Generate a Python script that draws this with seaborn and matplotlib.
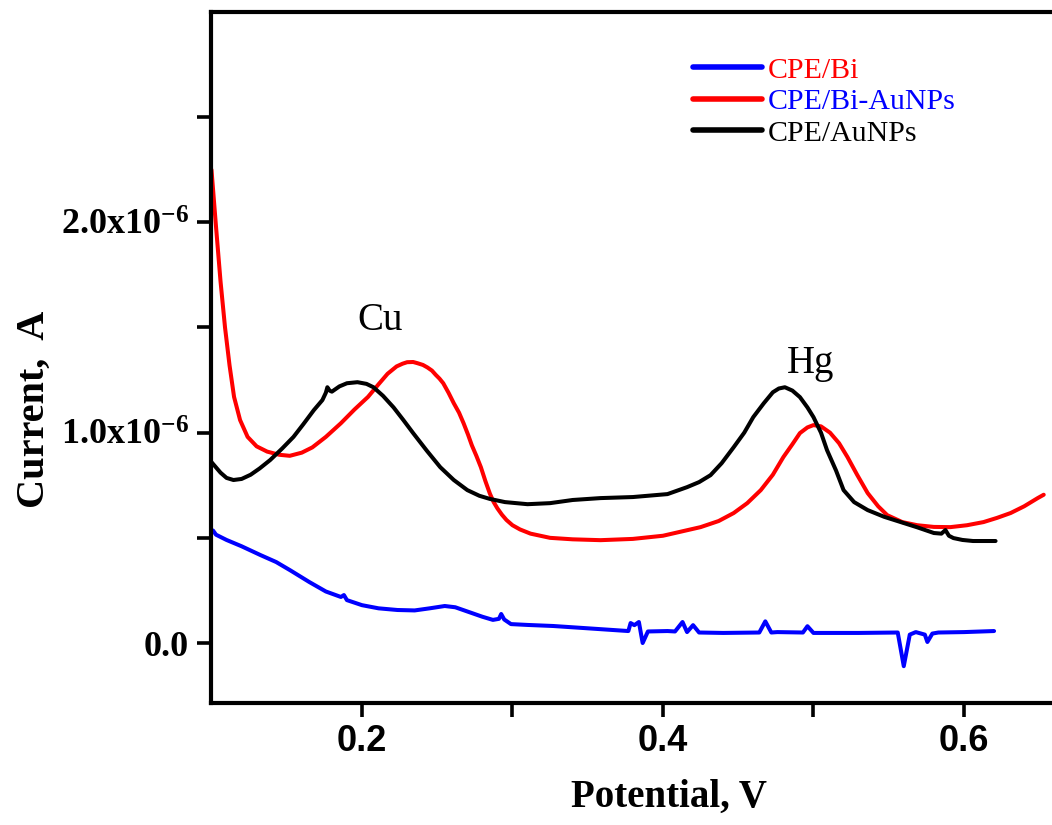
import matplotlib
matplotlib.use('Agg')
import matplotlib.pyplot as plt
import pandas as pd
import seaborn as sns

# potential (V) and current (uA)
bi_x = [0.1000, 0.1010, 0.1030, 0.1100, 0.1200, 0.1326, 0.1430, 0.1525,
        0.1650, 0.1760, 0.1860, 0.1880, 0.1900, 0.2000, 0.2110, 0.2236,
        0.2350, 0.2450, 0.2550, 0.2620, 0.2700, 0.2800, 0.2870, 0.2910,
        0.2925, 0.2945, 0.2990, 0.3100, 0.3270, 0.3500, 0.3770, 0.3785,
        0.3810, 0.3840, 0.3865, 0.3900, 0.4030, 0.4080, 0.4130, 0.4160,
        0.4200, 0.4240, 0.4400, 0.4640, 0.4680, 0.4720, 0.4760, 0.4930,
        0.4960, 0.5000, 0.5300, 0.5560, 0.5600, 0.5640, 0.5680, 0.5740,
        0.5757, 0.5790, 0.5830, 0.6000, 0.6200]
bi_y = [0.527, 0.535, 0.515, 0.490, 0.460, 0.418, 0.385, 0.345,
        0.290, 0.245, 0.219, 0.228, 0.204, 0.180, 0.165, 0.157,
        0.155, 0.165, 0.176, 0.170, 0.150, 0.125, 0.110, 0.115,
        0.138, 0.112, 0.090, 0.086, 0.081, 0.070, 0.057, 0.095,
        0.085, 0.100, 0.000, 0.055, 0.057, 0.055, 0.100, 0.052,
        0.085, 0.050, 0.048, 0.050, 0.103, 0.050, 0.052, 0.050,
        0.080, 0.048, 0.048, 0.050, -0.110, 0.040, 0.052, 0.040,
        0.005, 0.045, 0.050, 0.052, 0.057]

biau_x = [0.1000, 0.1030, 0.1060, 0.1090, 0.1120, 0.1150, 0.1190, 0.1240,
          0.1300, 0.1370, 0.1450, 0.1520, 0.1600, 0.1670, 0.1760, 0.1860,
          0.1950, 0.2040, 0.2110, 0.2170, 0.2230, 0.2270, 0.2300, 0.2340,
          0.2370, 0.2405, 0.2435, 0.2465, 0.2490, 0.2515, 0.2540, 0.2575,
          0.2610, 0.2645, 0.2675, 0.2705, 0.2730, 0.2760, 0.2790, 0.2820,
          0.2850, 0.2875, 0.2900, 0.2930, 0.2960, 0.3000, 0.3050, 0.3120,
          0.3250, 0.3400, 0.3585, 0.3800, 0.4000, 0.4250, 0.4370, 0.4470,
          0.4560, 0.4650, 0.4730, 0.4800, 0.4860, 0.4910, 0.4960, 0.5000,
          0.5050, 0.5110, 0.5170, 0.5226, 0.5290, 0.5360, 0.5430, 0.5490,
          0.5590, 0.5690, 0.5800, 0.5910, 0.6020, 0.6130, 0.6220, 0.6310,
          0.6400, 0.6490, 0.6530]
biau_y = [2.25, 1.98, 1.72, 1.50, 1.32, 1.17, 1.06, 0.98,
          0.935, 0.91, 0.895, 0.89, 0.905, 0.93, 0.98, 1.045,
          1.11, 1.17, 1.23, 1.28, 1.315, 1.328, 1.335, 1.336,
          1.33, 1.322, 1.31, 1.295, 1.275, 1.257, 1.235, 1.19,
          1.14, 1.095, 1.045, 0.99, 0.94, 0.89, 0.836, 0.77,
          0.71, 0.67, 0.64, 0.61, 0.585, 0.56, 0.54, 0.52,
          0.50, 0.493, 0.489, 0.495, 0.51, 0.551, 0.58, 0.618,
          0.665, 0.727, 0.80, 0.884, 0.945, 0.998, 1.025, 1.036,
          1.03, 1.00, 0.95, 0.884, 0.80, 0.713, 0.65, 0.608,
          0.575, 0.56, 0.552, 0.551, 0.56, 0.575, 0.595, 0.618,
          0.65, 0.689, 0.705]

au_x = [0.1000, 0.1030, 0.1060, 0.1100, 0.1146, 0.1200, 0.1260, 0.1320,
        0.1390, 0.1470, 0.1545, 0.1610, 0.1680, 0.1737, 0.1760, 0.1770,
        0.1785, 0.1800, 0.1850, 0.1900, 0.1970, 0.2030, 0.2076, 0.2140,
        0.2210, 0.2275, 0.2340, 0.2430, 0.2520, 0.2610, 0.2700, 0.2780,
        0.2850, 0.2950, 0.3100, 0.3250, 0.3400, 0.3585, 0.3800, 0.4030,
        0.4160, 0.4240, 0.4316, 0.4390, 0.4470, 0.4540, 0.4600, 0.4670,
        0.4730, 0.4770, 0.4810, 0.4860, 0.4910, 0.4960, 0.5000, 0.5050,
        0.5090, 0.5150, 0.5200, 0.5270, 0.5360, 0.5470, 0.5580, 0.5690,
        0.5800, 0.5850, 0.5877, 0.5900, 0.5930, 0.5990, 0.6060, 0.6210]
au_y = [0.86, 0.835, 0.81, 0.785, 0.775, 0.78, 0.80, 0.83,
        0.87, 0.925, 0.98, 1.04, 1.107, 1.155, 1.19, 1.216,
        1.20, 1.195, 1.22, 1.235, 1.24, 1.232, 1.216, 1.175,
        1.12, 1.06, 0.998, 0.915, 0.836, 0.775, 0.727, 0.70,
        0.685, 0.67, 0.66, 0.665, 0.68, 0.689, 0.694, 0.708,
        0.741, 0.765, 0.798, 0.855, 0.931, 1.00, 1.074, 1.14,
        1.192, 1.21, 1.216, 1.20, 1.169, 1.12, 1.074, 1.00,
        0.917, 0.82, 0.727, 0.67, 0.632, 0.60, 0.575, 0.55,
        0.523, 0.52, 0.537, 0.51, 0.499, 0.49, 0.485, 0.485]

names = ['CPE/Bi', 'CPE/Bi-AuNPs', 'CPE/AuNPs']
line_colors = ['#0000ff', '#ff0000', '#000000']
text_colors = ['#ff0000', '#0000ff', '#000000']

x_ticks = [0.2, 0.4, 0.6]
x_labels = ['0.2', '0.4', '0.6']
x_minor = [0.3, 0.5]
y_ticks = [0.0, 1.0e-6, 2.0e-6]
y_labels = ['0.0', '1.0x10$^{-6}$', '2.0x10$^{-6}$']
y_minor = [0.5e-6, 1.5e-6, 2.5e-6]

frames = []
for name, xs, ys in zip(names, [bi_x, biau_x, au_x], [bi_y, biau_y, au_y]):
    frames.append(pd.DataFrame({'potential': xs,
                                'current': [v * 1e-6 for v in ys],
                                'electrode': name}))
df = pd.concat(frames, ignore_index=True)

sns.set_style('ticks')
plt.rcParams['font.family'] = ['Liberation Serif', 'DejaVu Serif']
plt.rcParams['text.color'] = 'black'
plt.rcParams['axes.labelcolor'] = 'black'
plt.rcParams['xtick.color'] = 'black'
plt.rcParams['ytick.color'] = 'black'
plt.rcParams['mathtext.fontset'] = 'custom'
plt.rcParams['mathtext.rm'] = 'Liberation Serif:bold'
plt.rcParams['mathtext.it'] = 'Liberation Serif:bold'

fig = plt.figure(figsize=(10.52, 8.25), dpi=100)
ax = fig.add_axes([0.2006, 0.1479, 0.7994, 0.8376])

sns.lineplot(data=df, x='potential', y='current', hue='electrode',
             palette=dict(zip(names, line_colors)), hue_order=names,
             sort=False, estimator=None, linewidth=2.9, legend=False, ax=ax)

ax.set_xlim(0.0997, 0.6585)
ax.set_ylim(-0.285e-6, 3.0e-6)

ax.set_xticks(x_ticks, labels=x_labels, fontsize=26, fontweight='bold',
              fontfamily='Liberation Sans', color='black')
ax.set_xticks(x_minor, minor=True)
ax.set_yticks(y_ticks, labels=y_labels, fontsize=26, fontweight='bold',
              color='black')
ax.set_yticks(y_minor, minor=True)
ax.tick_params(which='both', direction='out', length=10, width=2.6,
               color='black')
ax.tick_params(axis='x', pad=5)
ax.tick_params(axis='y', pad=6)

for side in ['left', 'bottom', 'top']:
    ax.spines[side].set_linewidth(3)
    ax.spines[side].set_color('black')
ax.spines['right'].set_visible(False)

ax.set_xlabel('Potential, V', fontsize=28, fontweight='bold', color='black')
ax.set_ylabel('Current,  A', fontsize=29, fontweight='bold', color='black')
ax.xaxis.set_label_coords(0.545, -0.11)
ax.yaxis.set_label_coords(-0.188, 0.425)

ax.text(0.2123, 1.534e-6, 'Cu', fontsize=28, ha='center', va='center',
        color='black')
ax.text(0.498, 1.33e-6, 'Hg', fontsize=28, ha='center', va='center',
        color='black')

handles = ax.get_lines()[:3]
leg = ax.legend(handles, names, loc='upper left',
                bbox_to_anchor=(0.573, 0.935), frameon=False, fontsize=21.5,
                handlelength=2.3, handletextpad=0.2, labelspacing=0.15,
                borderpad=0, borderaxespad=0)
for txt, col in zip(leg.get_texts(), text_colors):
    txt.set_color(col)
for ln in leg.get_lines():
    ln.set_linewidth(4)

fig.savefig('out.png', dpi=100)
